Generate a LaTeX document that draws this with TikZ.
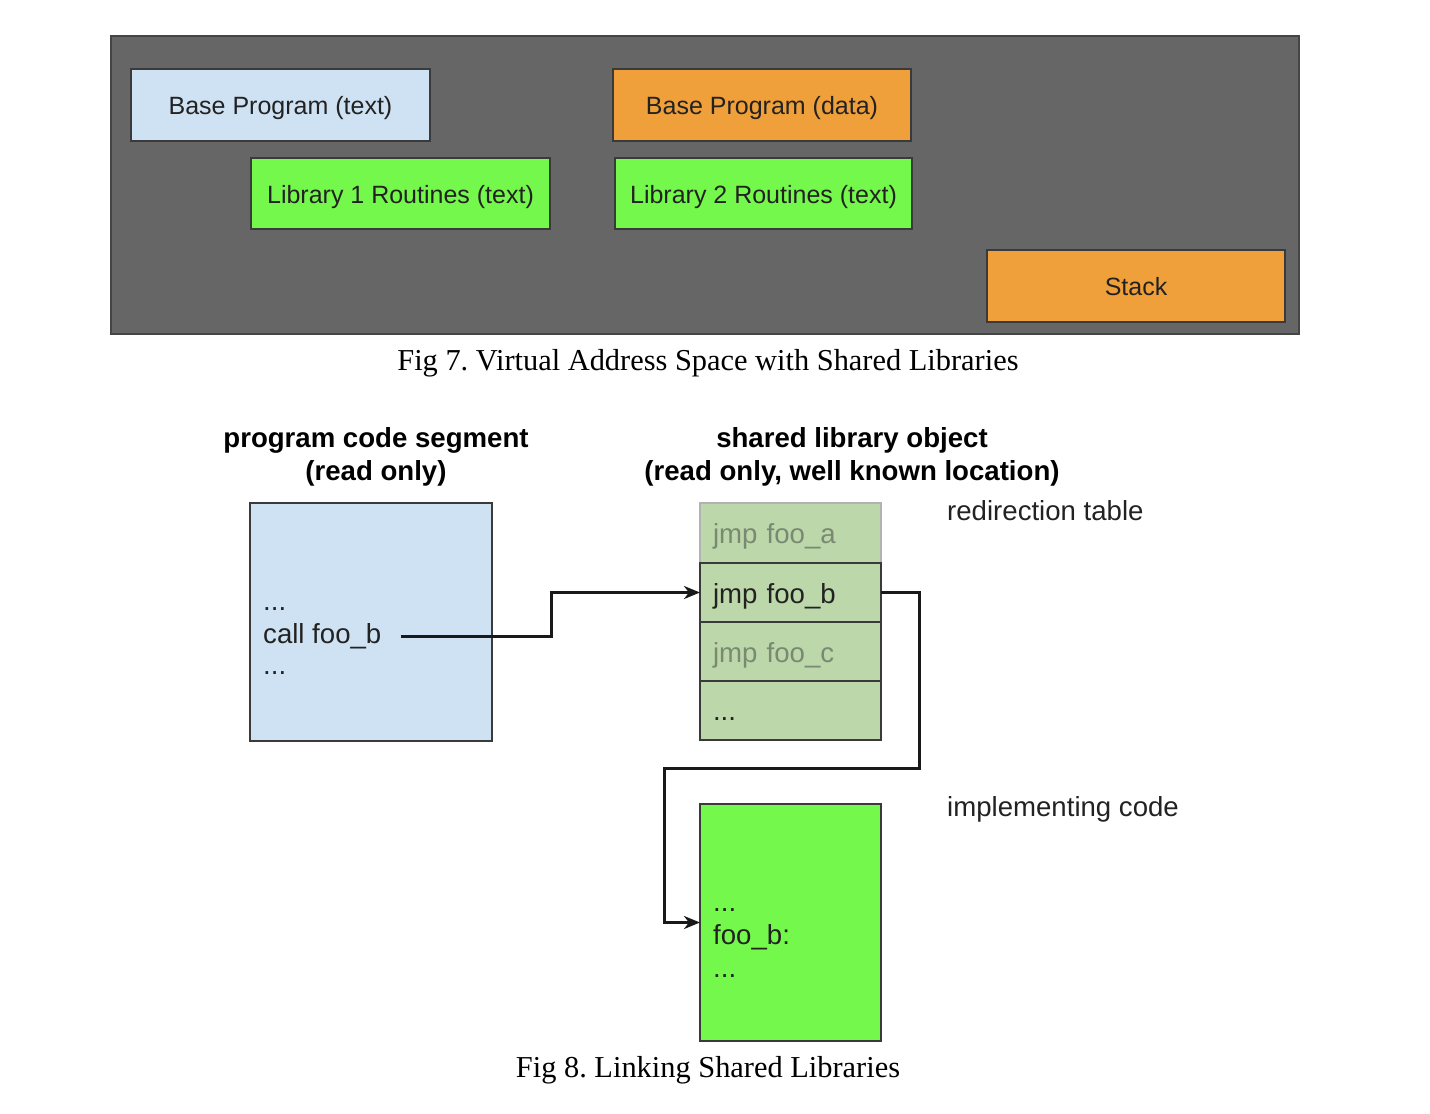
\documentclass[tikz,border=0pt]{standalone}
\usepackage{fontspec}
\setmainfont{Liberation Serif}
\newfontfamily\arialf{Liberation Sans}
\usetikzlibrary{arrows.meta,calc}
\frenchspacing
\definecolor{bgdark}{HTML}{666666}
\definecolor{bgbord}{HTML}{454545}
\definecolor{lblue}{HTML}{CFE2F3}
\definecolor{orng}{HTML}{F0A03A}
\definecolor{grn}{HTML}{74F84B}
\definecolor{lgrn}{HTML}{BCD7A9}
\definecolor{bord}{HTML}{3A3A3A}
\definecolor{txt}{HTML}{222222}
\definecolor{gtxt}{HTML}{7A8A72}
\begin{document}
\begin{tikzpicture}[x=1pt,y=-1pt,
  box/.style={draw=bord, line width=2pt, inner sep=0pt, outer sep=0pt, text=txt,
    text height=19pt, text depth=0pt,
    font=\arialf\fontsize{25}{30}\selectfont},
  row/.style={draw=bord, line width=2pt, inner sep=0pt, outer sep=0pt, fill=lgrn,
    minimum width=181, text width=155, align=left, text height=21pt, text depth=0pt,
    font=\arialf\fontsize{27.6}{33}\selectfont},
  code/.style={inner sep=0pt, text=txt, font=\arialf\fontsize{27.6}{33}\selectfont},
  head/.style={inner sep=0pt, text=black, align=center,
    font=\arialf\bfseries\fontsize{27.6}{33}\selectfont},
  figcap/.style={inner sep=0pt, text=black, font=\fontsize{30.4}{36}\selectfont},
  arr/.style={draw=black!90, line width=3pt, -{Stealth[length=16pt,width=13pt,inset=5pt]}}]
\useasboundingbox (0,0) rectangle (1430,1114);

% ---------- Fig 7 ----------
\node[draw=bgbord, line width=2pt, fill=bgdark, minimum width=1188, minimum height=298,
  inner sep=0pt, outer sep=0pt] (vas) at (705,185) {};
\node[box, fill=lblue, minimum width=299, minimum height=72] (bpt) at (280.5,105) {Base Program (text)};
\node[box, fill=orng, minimum width=298, minimum height=72] (bpd) at (762,105) {Base Program (data)};
\node[box, fill=grn, minimum width=299, minimum height=71] (lib1) at (400.5,193.5) {Library 1 Routines (text)};
\node[box, fill=grn, minimum width=297, minimum height=71] (lib2) at (763.5,193.5) {Library 2 Routines (text)};
\node[box, fill=orng, minimum width=298, minimum height=72] (stack) at (1136,286) {Stack};
\node[figcap] (cap7) at (708,363) {Fig 7. Virtual Address Space with Shared Libraries};

% ---------- Fig 8 ----------
\node[head] (h1) at (376,457) {program code segment\\(read only)};
\node[head] (h2) at (852,457) {shared library object\\(read only, well known location)};

\node[draw=bord, line width=2pt, fill=lblue, minimum width=242, minimum height=238,
  inner sep=0pt, outer sep=0pt] (prog) at (371,622) {};
\node[code, anchor=base west] (pd1) at (263,610) {...};
\node[code, anchor=base west] (call) at (263,643) {call foo\_b};
\node[code, anchor=base west] (pd2) at (263,674) {...};

\node[row, draw=black!30, text=gtxt, minimum height=60] (rowa) at (790.5,533) {jmp foo\_a};
\node[row, minimum height=59, text=txt] (rowb) at (790.5,592.5) {jmp foo\_b};
\node[row, minimum height=59, text=gtxt] (rowc) at (790.5,651.5) {jmp foo\_c};
\node[row, minimum height=59, text=txt, text height=19pt] (rowd) at (790.5,710.5) {...};

\node[code, anchor=west] (rt) at (947,511) {redirection table};
\node[code, anchor=west] (ic) at (947,809) {implementing code};

\node[draw=bord, line width=2pt, fill=grn, minimum width=181, minimum height=237,
  inner sep=0pt, outer sep=0pt] (impl) at (790.5,922.5) {};
\node[code, anchor=base west] (id1) at (713,911) {...};
\node[code, anchor=base west] (foob) at (713,944) {foo\_b:};
\node[code, anchor=base west] (id2) at (713,977) {...};

\node[figcap] (cap8) at (708,1070) {Fig 8. Linking Shared Libraries};

% connectors
\coordinate (c0) at ($(call.east)+(19,1)$);
\draw[arr] (c0) -- ++(151,0) |- (rowb.west);
\coordinate (k1) at (919,768);
\coordinate (k2) at (664,768);
\draw[arr] (rowb.east) -| (k1) -- (k2) |- (impl.west);
\end{tikzpicture}
\end{document}
